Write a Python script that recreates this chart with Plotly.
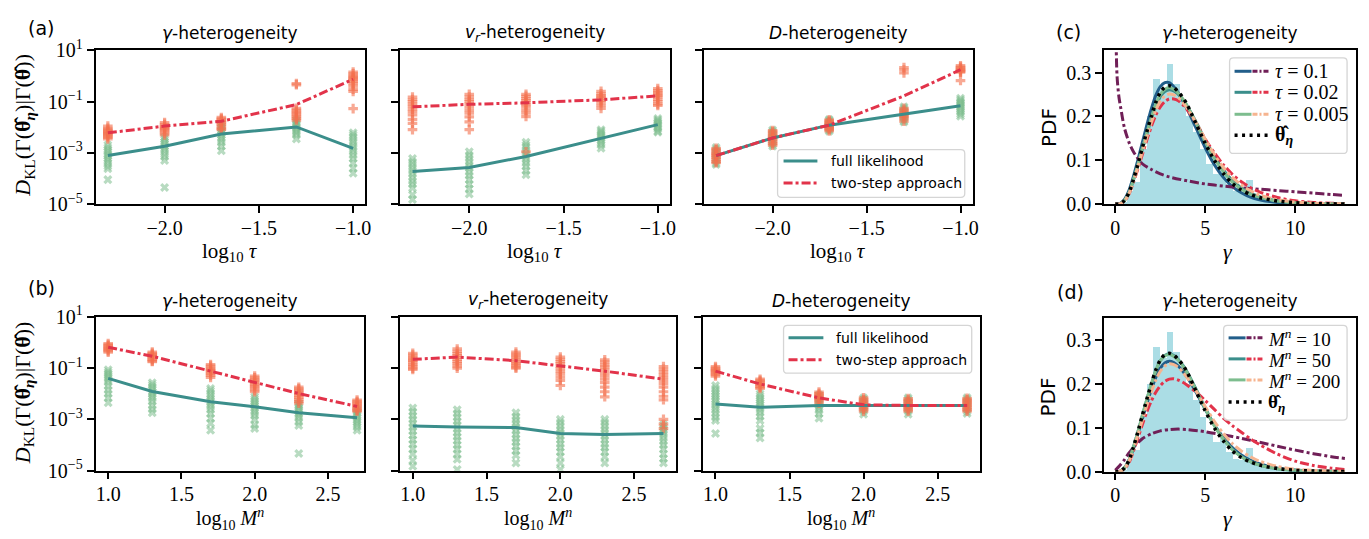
import plotly.graph_objects as go

W, H = 1369, 539
SANS = "DejaVu Sans"
SERIF = "Liberation Serif"

# ---------------- data: x positions ----------------
tau_x = [-2.301, -2.0, -1.699, -1.301, -1.0]
m_x = [1.0, 1.301, 1.699, 2.0, 2.301, 2.699]

# ---------------- (a) gamma-heterogeneity vs tau ----------------
a1_full_pts = [
    [2e-3, 1.6e-3, 1.3e-3, 1.1e-3, 9e-4, 7.5e-4, 6e-4, 5e-4, 4e-4, 3e-4, 2.4e-4, 9e-5],
    [4e-3, 3.3e-3, 2.7e-3, 2.2e-3, 1.8e-3, 1.5e-3, 1.2e-3, 9e-4, 7e-4, 5e-4, 4.4e-5],
    [1.4e-2, 1.1e-2, 9e-3, 7.5e-3, 6e-3, 5e-3, 4e-3, 3.2e-3, 2.5e-3, 1.8e-3, 1.2e-3],
    [1.9e-2, 1.6e-2, 1.4e-2, 1.2e-2, 1e-2, 8.5e-3, 7e-3, 6e-3, 5e-3, 3.5e-3],
    [6e-3, 5e-3, 4e-3, 3e-3, 2.4e-3, 1.8e-3, 1.4e-3, 1.1e-3, 8e-4, 6e-4, 4e-4, 2.5e-4, 1.6e-4],
]
a1_two_pts = [
    [1.1e-2, 9e-3, 8e-3, 7e-3, 6.5e-3, 6e-3, 5.5e-3, 5e-3, 4.5e-3, 4e-3, 3.5e-3],
    [1.5e-2, 1.3e-2, 1.1e-2, 1e-2, 9e-3, 8e-3, 7e-3, 6e-3, 5e-3],
    [2.4e-2, 2.1e-2, 1.9e-2, 1.7e-2, 1.5e-2, 1.3e-2, 1.1e-2, 9e-3, 8e-3],
    [0.5, 0.45, 5.4e-2, 4.6e-2, 4e-2, 3.5e-2, 3e-2, 2.6e-2, 2.2e-2, 1.9e-2],
    [1.4, 1.2, 1.0, 0.9, 0.8, 0.7, 0.6, 0.5, 0.4, 0.3, 0.25, 5.3e-2],
]
a1_full_line = [7.9e-4, 1.8e-3, 5.4e-3, 1.02e-2, 1.5e-3]
a1_two_line = [6.0e-3, 1.1e-2, 1.7e-2, 7.6e-2, 0.74]

# ---------------- (a) v_r-heterogeneity vs tau ----------------
a2_full_pts = [
    [6e-4, 4.5e-4, 3.5e-4, 2.6e-4, 2e-4, 1.5e-4, 1.1e-4, 8e-5, 6e-5, 4.2e-5, 2.3e-5, 1.5e-5],
    [1.1e-3, 8e-4, 6e-4, 4.5e-4, 3.3e-4, 2.5e-4, 1.8e-4, 1.3e-4, 9e-5, 6e-5, 4e-5, 2.5e-5],
    [2.6e-3, 2e-3, 1.6e-3, 1.2e-3, 9e-4, 7e-4, 5.5e-4, 4e-4, 3e-4, 2e-4, 1.4e-4],
    [8e-3, 7e-3, 6e-3, 5e-3, 4.2e-3, 3.6e-3, 3e-3, 2.5e-3, 2e-3, 1.5e-3],
    [2.2e-2, 1.9e-2, 1.7e-2, 1.5e-2, 1.3e-2, 1.15e-2, 1e-2, 8.5e-3, 7e-3, 6.3e-3],
]
a2_two_pts = [
    [0.15, 0.12, 0.1, 8e-2, 6.5e-2, 5e-2, 4e-2, 3e-2, 2e-2, 1.4e-2, 8e-3],
    [0.19, 0.15, 0.12, 0.1, 8e-2, 6e-2, 4.5e-2, 3.5e-2, 2.5e-2, 1.6e-2, 8e-3],
    [0.19, 0.16, 0.13, 0.11, 9e-2, 7.5e-2, 6e-2, 4.5e-2, 3.5e-2, 2.6e-2, 1.1e-3],
    [0.25, 0.2, 0.17, 0.15, 0.13, 0.11, 9e-2, 7e-2, 5.4e-2],
    [0.32, 0.27, 0.23, 0.2, 0.17, 0.15, 0.12, 0.1, 8e-2, 7e-2],
]
a2_full_line = [1.86e-4, 2.7e-4, 7.2e-4, 3.7e-3, 1.26e-2]
a2_two_line = [6.2e-2, 7.8e-2, 8.9e-2, 0.117, 0.166]

# ---------------- (a) D-heterogeneity vs tau ----------------
a3_full_pts = [
    [1.6e-3, 1.35e-3, 1.15e-3, 1e-3, 8.5e-4, 7e-4, 6e-4, 5e-4, 4e-4, 3.5e-4],
    [7.8e-3, 6.8e-3, 5.8e-3, 5e-3, 4.3e-3, 3.6e-3, 3e-3, 2.5e-3, 2.1e-3, 1.8e-3],
    [2e-2, 1.8e-2, 1.6e-2, 1.4e-2, 1.2e-2, 1.05e-2, 9e-3, 8e-3, 7e-3],
    [6.3e-2, 5.5e-2, 4.8e-2, 4.2e-2, 3.6e-2, 3.1e-2, 2.6e-2, 2.2e-2, 1.8e-2, 1.6e-2],
    [0.135, 0.115, 0.1, 8.8e-2, 7.6e-2, 6.6e-2, 5.7e-2, 4.8e-2, 4e-2, 3.3e-2, 2.7e-2],
]
a3_two_pts = [
    [1.5e-3, 1.3e-3, 1.1e-3, 9.5e-4, 8.5e-4, 7.5e-4, 6.5e-4, 5.5e-4, 4.5e-4, 4.1e-4],
    [7.4e-3, 6.5e-3, 5.5e-3, 4.8e-3, 4.2e-3, 3.7e-3, 3.2e-3, 2.7e-3, 2.3e-3, 2e-3],
    [1.95e-2, 1.75e-2, 1.55e-2, 1.4e-2, 1.25e-2, 1.1e-2, 1e-2, 9e-3, 8e-3, 7.2e-3],
    [2.1, 1.7, 1.3, 5.4e-2, 4.6e-2, 4e-2, 3.5e-2, 3e-2, 2.6e-2, 2.2e-2, 1.7e-2],
    [2.5, 2.2, 2.0, 1.8, 1.6, 1.5, 1.4, 0.66],
]
a3_full_line = [7.8e-4, 3.8e-3, 1.2e-2, 3.2e-2, 6.8e-2]
a3_two_line = [7.8e-4, 3.8e-3, 1.2e-2, 0.166, 1.74]

# ---------------- (b) gamma-heterogeneity vs M ----------------
b1_full_pts = [
    [8.7e-2, 7e-2, 6e-2, 5e-2, 4.2e-2, 3.5e-2, 2.8e-2, 2e-2, 1.4e-2, 1e-2, 7e-3, 4.5e-3],
    [2.7e-2, 2.2e-2, 1.8e-2, 1.5e-2, 1.2e-2, 1e-2, 8e-3, 6.5e-3, 5e-3, 3.5e-3, 2.5e-3, 1.8e-3],
    [1.6e-2, 1.3e-2, 1e-2, 8e-3, 6.2e-3, 5e-3, 4e-3, 3.1e-3, 2.4e-3, 1.7e-3, 1.1e-3, 7e-4, 3.8e-4],
    [7.6e-3, 6.3e-3, 5.2e-3, 4.3e-3, 3.5e-3, 2.9e-3, 2.3e-3, 1.8e-3, 1.4e-3, 1e-3, 6e-4, 4.4e-4],
    [4.3e-3, 3.6e-3, 3e-3, 2.5e-3, 2.1e-3, 1.7e-3, 1.4e-3, 1.1e-3, 8e-4, 5.8e-4, 4.7e-5],
    [2.4e-3, 2e-3, 1.7e-3, 1.4e-3, 1.15e-3, 9.5e-4, 8e-4, 6.5e-4, 5e-4, 3.8e-4],
]
b1_two_pts = [
    [0.9, 0.8, 0.72, 0.65, 0.58, 0.52, 0.47, 0.42],
    [0.42, 0.38, 0.34, 0.31, 0.28, 0.25, 0.22, 0.19, 0.18],
    [0.138, 0.12, 0.1, 9e-2, 8e-2, 7e-2, 6e-2, 5.2e-2, 4.3e-2],
    [4.9e-2, 4.2e-2, 3.6e-2, 3.1e-2, 2.7e-2, 2.3e-2, 2e-2, 1.7e-2, 1.4e-2, 1.2e-2],
    [1.8e-2, 1.55e-2, 1.35e-2, 1.15e-2, 1e-2, 8.5e-3, 7.2e-3, 6e-3, 5e-3, 4.3e-3],
    [5.7e-3, 5e-3, 4.4e-3, 3.9e-3, 3.4e-3, 3e-3, 2.6e-3, 2.3e-3, 2.1e-3],
]
b1_full_line = [4e-2, 1.23e-2, 4.9e-3, 3.1e-3, 1.8e-3, 1.17e-3]
b1_two_line = [0.65, 0.29, 7.6e-2, 2.75e-2, 1.02e-2, 3.2e-3]

# ---------------- (b) v_r-heterogeneity vs M ----------------
b2_full_pts = [
    [2.8e-3, 2e-3, 1.4e-3, 1e-3, 7e-4, 5e-4, 3.5e-4, 2.4e-4, 1.6e-4, 1.1e-4, 7e-5, 4.5e-5, 2.5e-5, 1.5e-5],
    [2.4e-3, 1.7e-3, 1.2e-3, 8.5e-4, 6e-4, 4.2e-4, 3e-4, 2.1e-4, 1.5e-4, 1e-4, 7e-5, 4.5e-5, 2.8e-5, 1.1e-5],
    [1.8e-3, 1.3e-3, 9.5e-4, 7e-4, 5e-4, 3.6e-4, 2.6e-4, 1.8e-4, 1.3e-4, 9e-5, 6e-5, 4e-5, 2e-5],
    [1e-3, 7.5e-4, 5.5e-4, 4e-4, 3e-4, 2.2e-4, 1.6e-4, 1.1e-4, 8e-5, 5.5e-5, 3.5e-5, 2e-5, 1.1e-5],
    [1e-3, 7.5e-4, 5.5e-4, 4e-4, 3e-4, 2.2e-4, 1.6e-4, 1.1e-4, 8e-5, 5.5e-5, 3.5e-5, 2e-5],
    [6.3e-4, 5e-4, 4e-4, 3.2e-4, 2.5e-4, 1.9e-4, 1.4e-4, 1e-4, 7e-5, 4.5e-5, 3e-5, 2e-5],
]
b2_two_pts = [
    [0.38, 0.32, 0.27, 0.23, 0.2, 0.17, 0.14, 0.12, 0.1, 8.9e-2],
    [0.56, 0.45, 0.37, 0.31, 0.26, 0.22, 0.18, 0.15, 0.12, 0.1],
    [0.42, 0.35, 0.3, 0.25, 0.21, 0.18, 0.15, 0.13, 0.11, 0.1],
    [0.27, 0.22, 0.18, 0.15, 0.12, 9.5e-2, 7.5e-2, 5.8e-2, 4.4e-2, 3.3e-2, 2.1e-2],
    [0.21, 0.17, 0.135, 0.11, 8.5e-2, 6.5e-2, 5e-2, 3.7e-2, 2.7e-2, 1.8e-2, 1.2e-2, 7.6e-3],
    [0.115, 9e-2, 7e-2, 5.5e-2, 4.3e-2, 3.3e-2, 2.5e-2, 1.8e-2, 1.2e-2, 8e-3, 5.8e-3, 1e-3, 6.5e-4, 4.4e-4],
]
b2_full_line = [5.5e-4, 5e-4, 4.8e-4, 2.8e-4, 2.6e-4, 2.8e-4]
b2_two_line = [0.22, 0.27, 0.195, 0.123, 7.6e-2, 3.7e-2]

# ---------------- (b) D-heterogeneity vs M ----------------
b3_full_pts = [
    [2.1e-2, 1.6e-2, 1.25e-2, 1e-2, 8e-3, 6.3e-3, 5e-3, 3.9e-3, 3e-3, 2.3e-3, 1.7e-3, 1.2e-3, 9e-4, 2.8e-4],
    [1e-2, 8.2e-3, 6.7e-3, 5.5e-3, 4.5e-3, 3.7e-3, 3e-3, 2.4e-3, 1.8e-3, 1.3e-3, 9e-4, 4.4e-4, 3e-4, 1.9e-4],
    [8.9e-3, 7.4e-3, 6.2e-3, 5.2e-3, 4.3e-3, 3.6e-3, 2.9e-3, 2.3e-3, 1.7e-3, 1.1e-3],
    [6.9e-3, 5.9e-3, 5e-3, 4.3e-3, 3.7e-3, 3.1e-3, 2.6e-3, 2.1e-3, 1.6e-3],
    [6.9e-3, 5.9e-3, 5e-3, 4.3e-3, 3.7e-3, 3.1e-3, 2.6e-3, 2.1e-3, 1.6e-3],
    [7e-3, 6e-3, 5.1e-3, 4.4e-3, 3.7e-3, 3.1e-3, 2.6e-3, 2.1e-3, 1.7e-3],
]
b3_two_pts = [
    [0.115, 0.1, 9e-2, 8e-2, 7.2e-2, 6.4e-2, 5.6e-2, 4.9e-2],
    [3.7e-2, 3.3e-2, 2.9e-2, 2.6e-2, 2.3e-2, 2e-2, 1.8e-2, 1.6e-2],
    [1.17e-2, 1.02e-2, 9e-3, 8e-3, 7e-3, 6.2e-3, 5.4e-3, 4.3e-3],
    [6.9e-3, 6e-3, 5.2e-3, 4.5e-3, 3.9e-3, 3.4e-3, 2.9e-3, 2.5e-3, 2.1e-3],
    [6.5e-3, 5.7e-3, 4.9e-3, 4.3e-3, 3.7e-3, 3.2e-3, 2.8e-3, 2.4e-3, 2.1e-3],
    [6.6e-3, 5.8e-3, 5e-3, 4.4e-3, 3.8e-3, 3.3e-3, 2.8e-3, 2.4e-3, 2.1e-3],
]
b3_full_line = [4e-3, 2.95e-3, 3.5e-3, 3.5e-3, 3.5e-3, 3.5e-3]
b3_two_line = [7.6e-2, 2.4e-2, 6.9e-3, 3.7e-3, 3.5e-3, 3.5e-3]

# ---------------- (c)/(d) PDFs ----------------
hist_centers = [0.464, 0.832, 1.2, 1.568, 1.936, 2.304, 2.672, 3.04, 3.408, 3.776, 4.144, 4.512,
                4.88, 5.248, 5.616, 5.984, 6.352, 6.72, 7.088, 7.456, 7.824, 8.192, 8.56, 8.928,
                9.296, 9.664, 10.032, 10.4, 10.768, 11.136, 11.504, 11.872, 12.24, 12.608]
hist_heights = [0.005, 0.03, 0.05, 0.125, 0.2, 0.285, 0.26, 0.319, 0.274, 0.235, 0.2, 0.165,
                0.125, 0.09, 0.068, 0.078, 0.045, 0.03, 0.028, 0.055, 0.015, 0.012, 0.008, 0.006,
                0.005, 0.004, 0.003, 0.002, 0.002, 0.001, 0.001, 0.0, 0.001, 0.001]
hist_bin_width = 0.368

grid_x = [0, 0.25, 0.5, 0.75, 1.0, 1.25, 1.5, 1.75, 2.0, 2.25, 2.5, 2.75, 3.0, 3.25, 3.5, 3.75,
          4.0, 4.5, 5.0, 5.5, 6.0, 6.5, 7.0, 7.5, 8.0, 9.0, 10.0, 11.0, 12.0, 12.75]
pdf_theta_eta = [0, 0.0005, 0.008, 0.025, 0.055, 0.09, 0.128, 0.165, 0.2, 0.232, 0.255, 0.267,
                 0.27, 0.266, 0.256, 0.243, 0.226, 0.182, 0.138, 0.1, 0.07, 0.047, 0.032, 0.022,
                 0.015, 0.007, 0.003, 0.0013, 0.0006, 0.0003]

c_full_tau01 = [0, 0.0008, 0.01, 0.03, 0.062, 0.1, 0.14, 0.18, 0.217, 0.248, 0.268, 0.277,
                0.277, 0.268, 0.254, 0.236, 0.216, 0.172, 0.128, 0.09, 0.061, 0.04, 0.026, 0.016,
                0.01, 0.0038, 0.0014, 0.0005, 0.0002, 0.0001]
c_full_tau002 = [0, 0.0005, 0.008, 0.025, 0.054, 0.088, 0.125, 0.16, 0.194, 0.223, 0.245, 0.257,
                 0.261, 0.258, 0.25, 0.238, 0.223, 0.186, 0.146, 0.109, 0.078, 0.054, 0.037, 0.025,
                 0.017, 0.0075, 0.0033, 0.0015, 0.0007, 0.0004]
c_full_tau0005 = [0, 0.0005, 0.008, 0.025, 0.055, 0.089, 0.127, 0.163, 0.197, 0.228, 0.25, 0.262,
                  0.266, 0.262, 0.253, 0.24, 0.224, 0.184, 0.142, 0.104, 0.074, 0.05, 0.034, 0.023,
                  0.016, 0.0072, 0.0032, 0.0014, 0.0006, 0.0004]
c_two_tau002 = [0, 0.0004, 0.007, 0.022, 0.049, 0.08, 0.113, 0.146, 0.177, 0.203, 0.222, 0.234,
                0.24, 0.24, 0.236, 0.227, 0.215, 0.184, 0.148, 0.117, 0.09, 0.068, 0.051, 0.038,
                0.028, 0.015, 0.0075, 0.0038, 0.0019, 0.0012]
c_two_tau0005 = [0, 0.0004, 0.007, 0.023, 0.051, 0.084, 0.119, 0.153, 0.186, 0.214, 0.235, 0.247,
                 0.251, 0.249, 0.243, 0.232, 0.218, 0.185, 0.148, 0.113, 0.084, 0.061, 0.044, 0.031,
                 0.021, 0.01, 0.0047, 0.0022, 0.001, 0.0006]
c_two_tau01_x = [0.01, 0.05, 0.1, 0.2, 0.3, 0.5, 0.75, 1.0, 1.5, 2.0, 2.5, 3.0, 4.0, 5.0, 6.0,
                 7.0, 8.0, 9.0, 10.0, 11.0, 12.0, 12.75]
c_two_tau01 = [0.62, 0.36, 0.29, 0.245, 0.22, 0.175, 0.142, 0.12, 0.092, 0.079, 0.069, 0.062,
               0.053, 0.046, 0.041, 0.037, 0.034, 0.031, 0.028, 0.025, 0.022, 0.02]

d_full_m10 = [0, 0.0005, 0.008, 0.024, 0.052, 0.085, 0.12, 0.155, 0.187, 0.215, 0.236, 0.248,
              0.252, 0.249, 0.241, 0.229, 0.215, 0.18, 0.142, 0.107, 0.078, 0.055, 0.038, 0.026,
              0.018, 0.008, 0.0036, 0.0016, 0.0007, 0.0004]
d_full_m50 = [0, 0.0005, 0.008, 0.025, 0.055, 0.09, 0.127, 0.164, 0.199, 0.23, 0.253, 0.265,
              0.269, 0.265, 0.256, 0.243, 0.227, 0.187, 0.145, 0.106, 0.075, 0.051, 0.034, 0.023,
              0.015, 0.0066, 0.0028, 0.0012, 0.0005, 0.0003]
d_full_m200 = [0, 0.0005, 0.008, 0.025, 0.055, 0.09, 0.128, 0.165, 0.2, 0.231, 0.253, 0.264,
               0.267, 0.263, 0.254, 0.241, 0.225, 0.185, 0.143, 0.105, 0.074, 0.05, 0.034, 0.023,
               0.015, 0.0067, 0.0029, 0.0012, 0.0005, 0.0003]
d_two_m50 = [0, 0.0003, 0.006, 0.02, 0.046, 0.076, 0.107, 0.136, 0.161, 0.181, 0.196, 0.206,
             0.211, 0.212, 0.209, 0.204, 0.197, 0.181, 0.162, 0.142, 0.122, 0.105, 0.09, 0.075,
             0.062, 0.04, 0.024, 0.014, 0.008, 0.005]
d_two_m200 = [0, 0.0004, 0.007, 0.023, 0.05, 0.083, 0.117, 0.151, 0.182, 0.209, 0.229, 0.241,
              0.246, 0.244, 0.238, 0.227, 0.214, 0.183, 0.148, 0.115, 0.087, 0.064, 0.047, 0.034,
              0.024, 0.012, 0.0058, 0.0028, 0.0013, 0.0008]
d_two_m10_x = [0, 0.25, 0.5, 0.75, 1.0, 1.5, 2.0, 2.5, 3.0, 3.5, 4.0, 5.0, 6.0, 7.0, 8.0, 9.0,
               10.0, 11.0, 12.0, 12.75]
d_two_m10 = [0.003, 0.014, 0.027, 0.042, 0.055, 0.075, 0.086, 0.093, 0.096, 0.097, 0.096, 0.091,
             0.084, 0.076, 0.067, 0.058, 0.049, 0.041, 0.034, 0.03]

# ---------------- styles ----------------
TEAL = "#3b8e8b"
RED = "#e2334a"
DARKBLUE = "#225e8a"
LIGHTGREEN = "#7dbd8e"
PURPLE = "#701f57"
PEACH = "#f6b48f"
HIST = "#abdde5"
GREEN_MK = "rgba(125,189,142,0.55)"
ORANGE_MK = "rgba(243,112,76,0.6)"
DASHDOT = "9px,3px,3px,3px"
DOTTED = "3px,4.5px"


def px(x):
    return x / W


def py(y):
    return 1 - y / H


fig = go.Figure()


# axis ids: 1 a1, 2 a2, 3 a3, 4 c, 5 b1, 6 b2, 7 b3, 8 d
def ax(i):
    return ("x" if i == 1 else f"x{i}"), ("y" if i == 1 else f"y{i}")


def add_kl_panel(i, xs, full_pts, two_pts, full_line, two_line):
    xa, ya = ax(i)
    gx, gy = [], []
    for xv, vals in zip(xs, full_pts):
        gx += [xv] * len(vals)
        gy += vals
    ox, oy = [], []
    for xv, vals in zip(xs, two_pts):
        ox += [xv] * len(vals)
        oy += vals
    fig.add_trace(go.Scatter(x=gx, y=gy, mode="markers", xaxis=xa, yaxis=ya, showlegend=False,
                             marker=dict(symbol="x", size=8, color=GREEN_MK, line=dict(width=0))))
    fig.add_trace(go.Scatter(x=ox, y=oy, mode="markers", xaxis=xa, yaxis=ya, showlegend=False,
                             marker=dict(symbol="cross", size=8, color=ORANGE_MK, line=dict(width=0))))
    fig.add_trace(go.Scatter(x=xs, y=full_line, mode="lines", xaxis=xa, yaxis=ya, showlegend=False,
                             line=dict(color=TEAL, width=3)))
    fig.add_trace(go.Scatter(x=xs, y=two_line, mode="lines", xaxis=xa, yaxis=ya, showlegend=False,
                             line=dict(color=RED, width=3, dash=DASHDOT)))


add_kl_panel(1, tau_x, a1_full_pts, a1_two_pts, a1_full_line, a1_two_line)
add_kl_panel(2, tau_x, a2_full_pts, a2_two_pts, a2_full_line, a2_two_line)
add_kl_panel(3, tau_x, a3_full_pts, a3_two_pts, a3_full_line, a3_two_line)
add_kl_panel(5, m_x, b1_full_pts, b1_two_pts, b1_full_line, b1_two_line)
add_kl_panel(6, m_x, b2_full_pts, b2_two_pts, b2_full_line, b2_two_line)
add_kl_panel(7, m_x, b3_full_pts, b3_two_pts, b3_full_line, b3_two_line)


def add_pdf_panel(i, curves):
    xa, ya = ax(i)
    fig.add_trace(go.Bar(x=hist_centers, y=hist_heights, width=hist_bin_width, xaxis=xa, yaxis=ya,
                         marker=dict(color=HIST, line=dict(width=0)), showlegend=False))
    for cx, cy, color, dash, width in curves:
        fig.add_trace(go.Scatter(x=cx, y=cy, mode="lines", xaxis=xa, yaxis=ya, showlegend=False,
                                 line=dict(color=color, width=width, dash=dash, shape="spline",
                                           smoothing=0.8)))


add_pdf_panel(4, [
    (grid_x, c_full_tau01, DARKBLUE, "solid", 3),
    (c_two_tau01_x, c_two_tau01, PURPLE, DASHDOT, 3),
    (grid_x, c_full_tau002, TEAL, "solid", 3),
    (grid_x, c_two_tau002, RED, DASHDOT, 3),
    (grid_x, c_full_tau0005, LIGHTGREEN, "solid", 3),
    (grid_x, c_two_tau0005, PEACH, DASHDOT, 3),
    (grid_x, pdf_theta_eta, "black", DOTTED, 3.5),
])
add_pdf_panel(8, [
    (grid_x, d_full_m10, DARKBLUE, "solid", 3),
    (d_two_m10_x, d_two_m10, PURPLE, DASHDOT, 3),
    (grid_x, d_full_m50, TEAL, "solid", 3),
    (grid_x, d_two_m50, RED, DASHDOT, 3),
    (grid_x, d_full_m200, LIGHTGREEN, "solid", 3),
    (grid_x, d_two_m200, PEACH, DASHDOT, 3),
    (grid_x, pdf_theta_eta, "black", DOTTED, 3.5),
])

# ---------------- axes ----------------
TICKFONT = dict(family=SERIF, size=20, color="black")
base = dict(showline=True, mirror=True, linecolor="black", linewidth=1.6, ticks="outside",
            ticklen=7, tickwidth=1.6, tickcolor="black", showgrid=False, zeroline=False,
            tickfont=TICKFONT, fixedrange=True)

panels = {
    1: dict(xd=(96, 367), yd=(39, 200), xr=[-2.366, -0.935], kind="tau", ylab=True),
    2: dict(xd=(402, 673), yd=(39, 200), xr=[-2.366, -0.935], kind="tau", ylab=False),
    3: dict(xd=(707, 977), yd=(39, 200), xr=[-2.366, -0.935], kind="tau", ylab=False),
    4: dict(xd=(1109, 1362), yd=(39, 200), xr=[-0.62, 13.37], kind="pdf", ylab=True),
    5: dict(xd=(96, 366), yd=(318, 479), xr=[0.914, 2.749], kind="m", ylab=True),
    6: dict(xd=(402, 679), yd=(318, 479), xr=[0.915, 2.784], kind="m", ylab=False),
    7: dict(xd=(706, 984), yd=(318, 479), xr=[0.915, 2.784], kind="m", ylab=False),
    8: dict(xd=(1109, 1362), yd=(319, 480), xr=[-0.62, 13.37], kind="pdf", ylab=True),
}

layout_axes = {}
for i, p in panels.items():
    xname = "xaxis" if i == 1 else f"xaxis{i}"
    yname = "yaxis" if i == 1 else f"yaxis{i}"
    xa, ya = ax(i)
    xdom = [px(p["xd"][0]), px(p["xd"][1])]
    ydom = [py(p["yd"][1]), py(p["yd"][0])]
    xcfg = dict(base, domain=xdom, range=p["xr"], anchor=ya, ticklabelstandoff=-2)
    ycfg = dict(base, domain=ydom, anchor=xa)
    if p["kind"] == "tau":
        xcfg.update(tickvals=[-2.0, -1.5, -1.0], ticktext=["\u22122.0", "\u22121.5", "\u22121.0"])
    elif p["kind"] == "m":
        xcfg.update(tickvals=[1.0, 1.5, 2.0, 2.5], ticktext=["1.0", "1.5", "2.0", "2.5"])
    else:
        xcfg.update(tickvals=[0, 5, 10], ticktext=["0", "5", "10"])
    if p["kind"] == "pdf":
        ycfg.update(range=[0, 0.351], tickvals=[0, 0.1, 0.2, 0.3],
                    ticktext=["0.0", "0.1", "0.2", "0.3"])
    else:
        ycfg.update(type="log", range=[-5, 1], tickvals=[1e-5, 1e-3, 1e-1, 10],
                    ticktext=["10<sup>\u22125</sup>", "10<sup>\u22123</sup>",
                              "10<sup>\u22121</sup>", "10<sup>1</sup>"],
                    showticklabels=p["ylab"])
    layout_axes[xname] = xcfg
    layout_axes[yname] = ycfg

# ---------------- annotations ----------------
ann = []


def text(x, y, t, family=SANS, size=16, xanchor="center", angle=0):
    ann.append(dict(x=px(x), y=py(y), xref="paper", yref="paper", text=t, showarrow=False,
                    xanchor=xanchor, yanchor="middle", textangle=angle,
                    font=dict(family=family, size=size, color="black")))


titles = {
    1: "<i>γ</i>-heterogeneity",
    2: "<i>v</i><sub><i>r</i></sub>-heterogeneity",
    3: "<i>D</i>-heterogeneity",
    4: "<i>γ</i>-heterogeneity",
}
for i in (1, 2, 3, 4):
    p = panels[i]
    text((p["xd"][0] + p["xd"][1]) / 2, 21, titles[i], size=17)
    q = panels[i + 4]
    text((q["xd"][0] + q["xd"][1]) / 2, 301, titles[i], size=17)

# x-axis titles
for i in (1, 2, 3):
    p = panels[i]
    text((p["xd"][0] + p["xd"][1]) / 2, 250, "log<sub>10</sub> <i>τ</i>", family=SERIF, size=21)
for i in (5, 6, 7):
    p = panels[i]
    text((p["xd"][0] + p["xd"][1]) / 2, 530, "log<sub>10</sub> <i>M</i><sup><i>n</i></sup>",
         family=SERIF, size=20)
text(1233, 250, "<i>γ</i>", family=SERIF, size=22)
text(1233, 529, "<i>γ</i>", family=SERIF, size=22)

# y-axis titles
ylab = "<i>D</i><sub>KL</sub>(Γ(<b>θ̂</b><sub><b><i>η</i></b></sub>)|Γ(<b>θ̂</b>))"
text(24, 117, ylab, family=SERIF, size=22, angle=-90)
text(24, 397, ylab, family=SERIF, size=22, angle=-90)
text(1053, 120, "PDF", family=SANS, size=20, angle=-90)
text(1053, 402, "PDF", family=SANS, size=20, angle=-90)

# panel labels
text(41, 16, "(a)", size=19)
text(42, 288, "(b)", size=19)
text(1073, 20, "(c)", size=19)
text(1075, 292, "(d)", size=19)

# ---------------- manual legends ----------------
shapes = []


def rounded_box(x0, y0, x1, y1, r=4):
    pts = (f"M {px(x0 + r)},{py(y0)} L {px(x1 - r)},{py(y0)} Q {px(x1)},{py(y0)} {px(x1)},{py(y0 + r)} "
           f"L {px(x1)},{py(y1 - r)} Q {px(x1)},{py(y1)} {px(x1 - r)},{py(y1)} "
           f"L {px(x0 + r)},{py(y1)} Q {px(x0)},{py(y1)} {px(x0)},{py(y1 - r)} "
           f"L {px(x0)},{py(y0 + r)} Q {px(x0)},{py(y0)} {px(x0 + r)},{py(y0)} Z")
    shapes.append(dict(type="path", path=pts, xref="paper", yref="paper",
                       fillcolor="rgba(255,255,255,0.8)", line=dict(color="#d5d5d5", width=1.3),
                       layer="above"))


def seg(x0, x1, y, color, dash="solid", width=3):
    shapes.append(dict(type="line", x0=px(x0), x1=px(x1), y0=py(y), y1=py(y), xref="paper",
                       yref="paper", line=dict(color=color, width=width, dash=dash), layer="above"))


# legend in (a) D panel
rounded_box(781, 143, 969, 193)
seg(787, 821, 155, TEAL)
seg(787, 821, 178, RED, DASHDOT)
text(833, 155, "full likelihood", size=14, xanchor="left")
text(833, 178, "two-step approach", size=14, xanchor="left")

# legend in (b) D panel
rounded_box(787, 327, 976, 377)
seg(792, 827, 340, TEAL)
seg(792, 827, 363, RED, DASHDOT)
text(838, 340, "full likelihood", size=14, xanchor="left")
text(838, 363, "two-step approach", size=14, xanchor="left")

# legend in (c)
rounded_box(1235, 47, 1353, 147)
c_rows = [(61, DARKBLUE, PURPLE, "<i>τ</i> = 0.1"), (83, TEAL, RED, "<i>τ</i> = 0.02"),
          (106, LIGHTGREEN, PEACH, "<i>τ</i> = 0.005")]
for y, c1, c2, t in c_rows:
    seg(1240, 1257, y, c1)
    seg(1258, 1275, y, c2, "5px,2px,2px,2px")
    text(1279, y, t, family=SERIF, size=20, xanchor="left")
seg(1240, 1275, 128, "black", DOTTED, 3.5)
text(1279, 128, "<b>θ̂</b><sub><b><i>η</i></b></sub>", family=SERIF, size=20, xanchor="left")

# legend in (d)
rounded_box(1229, 327, 1353, 426)
d_rows = [(340, DARKBLUE, PURPLE, "<i>M</i><sup><i>n</i></sup> = 10"),
          (362, TEAL, RED, "<i>M</i><sup><i>n</i></sup> = 50"),
          (384, LIGHTGREEN, PEACH, "<i>M</i><sup><i>n</i></sup> = 200")]
for y, c1, c2, t in d_rows:
    seg(1234, 1251, y, c1)
    seg(1252, 1268, y, c2, "5px,2px,2px,2px")
    text(1272, y, t, family=SERIF, size=19, xanchor="left")
seg(1234, 1268, 407, "black", DOTTED, 3.5)
text(1272, 408, "<b>θ̂</b><sub><b><i>η</i></b></sub>", family=SERIF, size=19, xanchor="left")

fig.update_layout(
    width=W, height=H, autosize=False,
    margin=dict(l=0, r=0, t=0, b=0),
    paper_bgcolor="white", plot_bgcolor="white",
    showlegend=False, bargap=0,
    annotations=ann, shapes=shapes,
    **layout_axes,
)

fig.write_html("out.html")
